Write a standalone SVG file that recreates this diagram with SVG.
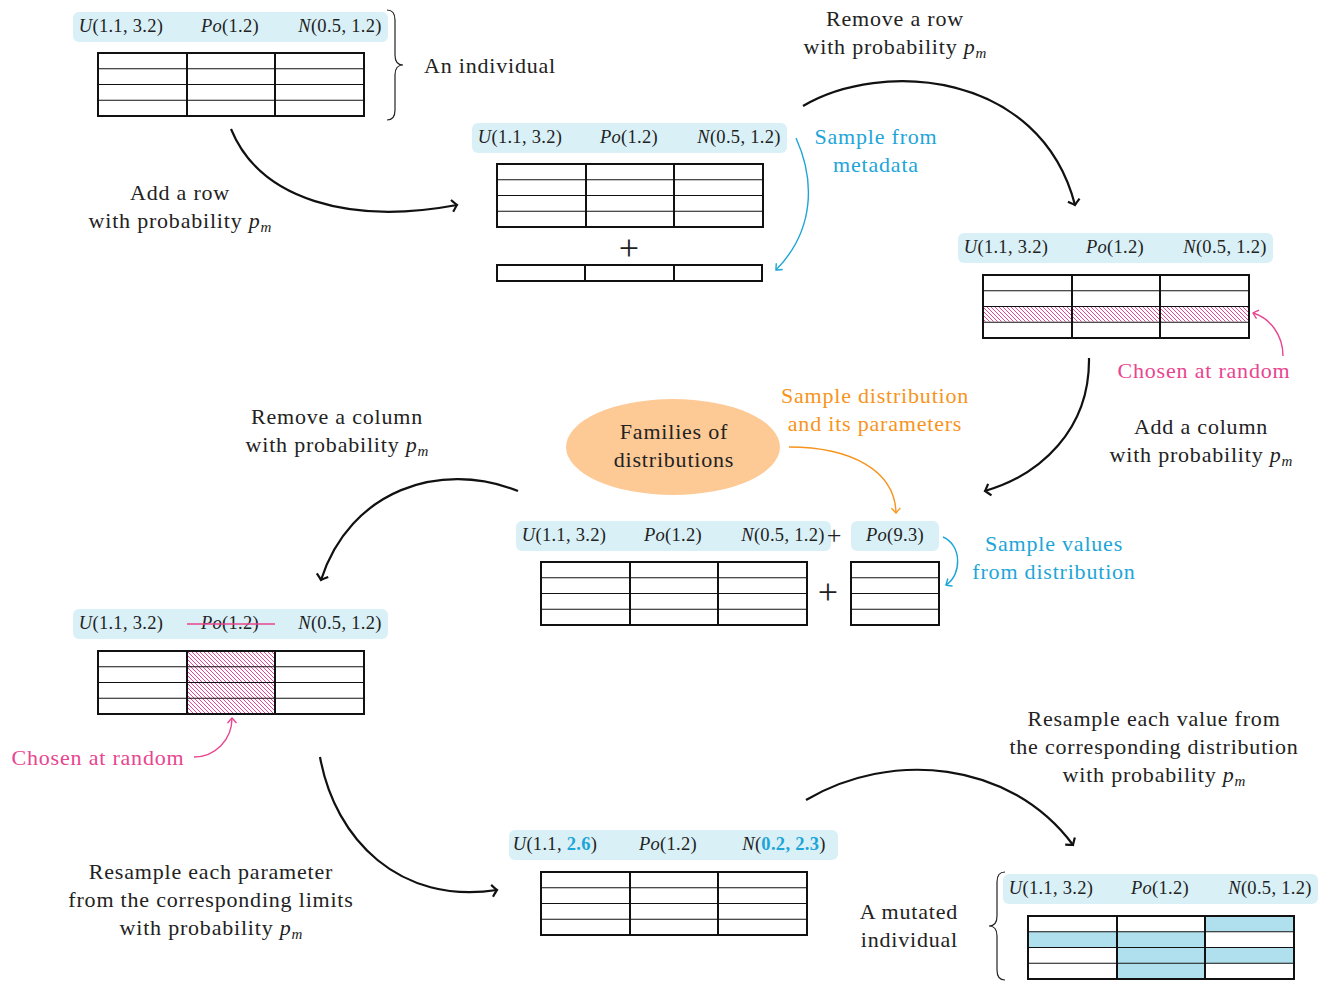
<svg xmlns="http://www.w3.org/2000/svg" width="1325" height="981" viewBox="0 0 1325 981">
  <style>
    text { font-family: "Liberation Serif", "DejaVu Serif", serif; fill: #222; }
    .body { font-size: 22px; letter-spacing: 0.8px; text-anchor: middle; }
    .lab { font-size: 18.5px; letter-spacing: 0.3px; text-anchor: middle; }
    .m { font-style: italic; }
    .sub { font-style: italic; font-size: 15px; letter-spacing: 0; }
    .cyan { fill: #1ea5d8; }
    .pinkt { fill: #e8458f; }
    .orange { fill: #f7941d; }
    .hl { fill: #1ea5d8; font-weight: bold; font-style: normal; }
    .box { fill: #d9f0f7; }
    .frame { fill: none; stroke: #111; stroke-width: 2; }
    .row { stroke: #111; stroke-width: 1.2; }
    .col { stroke: #111; stroke-width: 2; }
    .plus { font-size: 36px; text-anchor: middle; }
    .arrow { fill: none; stroke: #111; stroke-width: 2.2; marker-end: url(#headK); }
    .carrow { fill: none; stroke: #1ea5d8; stroke-width: 1.4; marker-end: url(#headC); }
    .parrow { fill: none; stroke: #e8458f; stroke-width: 1.4; marker-end: url(#headP); }
    .oarrow { fill: none; stroke: #f7941d; stroke-width: 1.4; marker-end: url(#headO); }
    .brace { fill: none; stroke: #222; stroke-width: 1.2; }
    .sel { fill: #b0e0ee; }
  </style>
  <defs>
    <marker id="headK" markerWidth="14" markerHeight="14" refX="0" refY="0" viewBox="-8 -7 10 14" orient="auto" markerUnits="userSpaceOnUse">
      <path d="M-5,-6 Q-1,-1 0,0 Q-1,1 -5,6" fill="none" stroke="#111" stroke-width="2.2"/>
    </marker>
    <marker id="headC" markerWidth="12" markerHeight="12" refX="0" refY="0" viewBox="-7 -6 9 12" orient="auto" markerUnits="userSpaceOnUse">
      <path d="M-5,-4.5 Q-1,-1 0,0 Q-1,1 -5,4.5" fill="none" stroke="#1ea5d8" stroke-width="1.4"/>
    </marker>
    <marker id="headP" markerWidth="12" markerHeight="12" refX="0" refY="0" viewBox="-7 -6 9 12" orient="auto" markerUnits="userSpaceOnUse">
      <path d="M-5,-4.5 Q-1,-1 0,0 Q-1,1 -5,4.5" fill="none" stroke="#e8458f" stroke-width="1.4"/>
    </marker>
    <marker id="headO" markerWidth="12" markerHeight="12" refX="0" refY="0" viewBox="-7 -6 9 12" orient="auto" markerUnits="userSpaceOnUse">
      <path d="M-5,-4.5 Q-1,-1 0,0 Q-1,1 -5,4.5" fill="none" stroke="#f7941d" stroke-width="1.4"/>
    </marker>
    <pattern id="hatch" patternUnits="userSpaceOnUse" width="4" height="4">
      <path d="M-1,-1 L5,5 M-1,3 L1,5 M3,-1 L5,1" stroke="#e8318a" stroke-width="0.9"/>
    </pattern>
    <!-- 3 x 4 data grid, 266 x 63 -->
    <g id="grid">
      <line class="row" x1="0" y1="15.75" x2="266" y2="15.75"/>
      <line class="row" x1="0" y1="31.5" x2="266" y2="31.5"/>
      <line class="row" x1="0" y1="47.25" x2="266" y2="47.25"/>
      <line class="col" x1="89" y1="0" x2="89" y2="63"/>
      <line class="col" x1="177" y1="0" x2="177" y2="63"/>
      <rect class="frame" x="0" y="0" width="266" height="63"/>
    </g>
    <!-- distribution header -->
    <g id="header">
      <rect class="box" x="0" y="0" width="315" height="30" rx="6"/>
      <text class="lab" x="48" y="20"><tspan class="m">U</tspan>(1.1, 3.2)</text>
      <text class="lab" x="157" y="20"><tspan class="m">Po</tspan>(1.2)</text>
      <text class="lab" x="267" y="20"><tspan class="m">N</tspan>(0.5, 1.2)</text>
    </g>
  </defs>

  <!-- initial individual -->
  <g id="individual">
    <use href="#header" x="73" y="12"/>
    <use href="#grid" x="98" y="53"/>
    <path class="brace" d="M387,10 Q395,10 395,20 L395,55 Q395,65 403,65 Q395,65 395,75 L395,110 Q395,120 387,120"/>
    <text class="body" x="490" y="73">An individual</text>
  </g>

  <!-- add a row -->
  <g id="add-row">
    <use href="#header" x="472" y="123"/>
    <use href="#grid" x="497" y="164"/>
    <text class="plus" x="629" y="260">+</text>
    <rect class="frame" x="497" y="265" width="265" height="16"/>
    <line class="col" x1="585" y1="265" x2="585" y2="281"/>
    <line class="col" x1="674" y1="265" x2="674" y2="281"/>
    <text class="body cyan" x="876" y="144">Sample from</text>
    <text class="body cyan" x="876" y="172">metadata</text>
  </g>

  <!-- remove a row -->
  <g id="remove-row">
    <use href="#header" x="958" y="233"/>
    <rect x="983" y="306" width="266" height="15.5" fill="url(#hatch)"/>
    <use href="#grid" x="983" y="275"/>
    <text class="body pinkt" x="1204" y="378">Chosen at random</text>
  </g>

  <!-- families of distributions -->
  <g id="families">
    <ellipse cx="673" cy="447" rx="107" ry="48" fill="#fdca96"/>
    <text class="body" x="674" y="439">Families of</text>
    <text class="body" x="674" y="467">distributions</text>
    <text class="body orange" x="875" y="403">Sample distribution</text>
    <text class="body orange" x="875" y="431">and its parameters</text>
  </g>

  <!-- add a column -->
  <g id="add-column">
    <use href="#header" x="516" y="521"/>
    <text x="834" y="544" style="font-size:26px;text-anchor:middle">+</text>
    <rect class="box" x="851" y="521" width="88" height="30" rx="6"/>
    <text class="lab" x="895" y="541"><tspan class="m">Po</tspan>(9.3)</text>
    <use href="#grid" x="541" y="562"/>
    <text class="plus" x="828" y="604">+</text>
    <rect class="frame" x="851" y="562" width="88" height="63"/>
    <line class="row" x1="851" y1="577.75" x2="939" y2="577.75"/>
    <line class="row" x1="851" y1="593.5" x2="939" y2="593.5"/>
    <line class="row" x1="851" y1="609.25" x2="939" y2="609.25"/>
    <text class="body cyan" x="1054" y="551">Sample values</text>
    <text class="body cyan" x="1054" y="579">from distribution</text>
  </g>

  <!-- remove a column -->
  <g id="remove-column">
    <rect class="box" x="73" y="609" width="315" height="30" rx="6"/>
    <text class="lab" x="121" y="629"><tspan class="m">U</tspan>(1.1, 3.2)</text>
    <text class="lab" x="230" y="629"><tspan class="m">Po</tspan>(1.2)</text>
    <line x1="187" y1="624" x2="275" y2="624" stroke="#e8458f" stroke-width="1.4"/>
    <text class="lab" x="340" y="629"><tspan class="m">N</tspan>(0.5, 1.2)</text>
    <rect x="187" y="651" width="88" height="62" fill="url(#hatch)"/>
    <use href="#grid" x="98" y="651"/>
    <text class="body pinkt" x="98" y="765">Chosen at random</text>
  </g>

  <!-- resampled parameters -->
  <g id="resample-params">
    <rect class="box" x="509" y="830" width="329" height="30" rx="6"/>
    <text class="lab" x="555" y="850"><tspan class="m">U</tspan>(1.1, <tspan class="hl">2.6</tspan>)</text>
    <text class="lab" x="668" y="850"><tspan class="m">Po</tspan>(1.2)</text>
    <text class="lab" x="784" y="850"><tspan class="m">N</tspan>(<tspan class="hl">0.2, 2.3</tspan>)</text>
    <use href="#grid" x="541" y="872"/>
  </g>

  <!-- mutated individual -->
  <g id="mutated">
    <use href="#header" x="1003" y="874"/>
    <rect class="sel" x="1205" y="916" width="88" height="15.75"/>
    <rect class="sel" x="1028" y="931.75" width="177" height="15.75"/>
    <rect class="sel" x="1116" y="947.5" width="177" height="15.75"/>
    <rect class="sel" x="1116" y="963.25" width="89" height="14.75"/>
    <use href="#grid" x="1028" y="916"/>
    <path class="brace" d="M1005,872 Q997,872 997,882 L997,916 Q997,926 989,926 Q997,926 997,936 L997,970 Q997,980 1005,980"/>
    <text x="958" y="919" style="font-size:22px;letter-spacing:0.8px;text-anchor:end">A mutated</text>
    <text x="958" y="947" style="font-size:22px;letter-spacing:0.8px;text-anchor:end">individual</text>
  </g>

  <!-- step labels -->
  <g id="step-labels">
    <text class="body" x="180" y="200">Add a row</text>
    <text class="body" x="180" y="228">with probability <tspan class="m">p</tspan><tspan class="sub" dy="4">m</tspan></text>
    <text class="body" x="895" y="26">Remove a row</text>
    <text class="body" x="895" y="54">with probability <tspan class="m">p</tspan><tspan class="sub" dy="4">m</tspan></text>
    <text class="body" x="1201" y="434">Add a column</text>
    <text class="body" x="1201" y="462">with probability <tspan class="m">p</tspan><tspan class="sub" dy="4">m</tspan></text>
    <text class="body" x="337" y="424">Remove a column</text>
    <text class="body" x="337" y="452">with probability <tspan class="m">p</tspan><tspan class="sub" dy="4">m</tspan></text>
    <text class="body" x="211" y="879">Resample each parameter</text>
    <text class="body" x="211" y="907">from the corresponding limits</text>
    <text class="body" x="211" y="935">with probability <tspan class="m">p</tspan><tspan class="sub" dy="4">m</tspan></text>
    <text class="body" x="1154" y="726">Resample each value from</text>
    <text class="body" x="1154" y="754">the corresponding distribution</text>
    <text class="body" x="1154" y="782">with probability <tspan class="m">p</tspan><tspan class="sub" dy="4">m</tspan></text>
  </g>

  <!-- connectors -->
  <g id="connectors">
    <path class="arrow" d="M231,129 C260,200 350,225 457,205"/>
    <path class="arrow" d="M803,106 C880,60 1040,70 1075,205"/>
    <path class="arrow" d="M1089,358 C1090,430 1040,475 985,491"/>
    <path class="arrow" d="M518,491 C440,460 350,490 321,580"/>
    <path class="arrow" d="M320,757 C335,840 400,905 497,890"/>
    <path class="arrow" d="M806,800 C890,750 1010,760 1073,845"/>
    <path class="carrow" d="M796,138 C815,180 815,230 776,270"/>
    <path class="carrow" d="M943,537 C962,545 962,575 946,585"/>
    <path class="parrow" d="M1283,356 C1283,335 1270,318 1253,313"/>
    <path class="parrow" d="M194,757 C215,757 232,740 232,718"/>
    <path class="oarrow" d="M789,447 C850,447 895,470 896,513"/>
  </g>
</svg>
